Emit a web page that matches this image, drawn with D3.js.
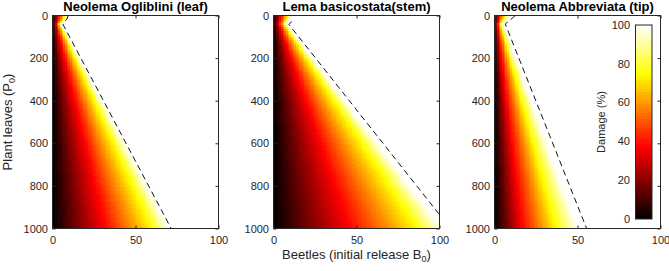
<!DOCTYPE html>
<html><head><meta charset="utf-8">
<script src="https://cdn.jsdelivr.net/npm/d3@7"></script>
<style>
body{margin:0;background:#fff}
svg{display:block}
text{font-family:"Liberation Sans",Arial,Helvetica,sans-serif;fill:#262626}
</style>
</head><body>
<svg id="c" width="669" height="271"></svg>
<script>
// ---- data ----
const titles = ["Neolema Ogliblini (leaf)", "Lema basicostata(stem)", "Neolema Abbreviata (tip)"];
const xTicks = [0, 50, 100];
const yTicks = [0, 200, 400, 600, 800, 1000];
const cbTicks = [0, 20, 40, 60, 80, 100];

// B0 of the full-damage (white) edge at these P0 levels
const edgeP0   = [0, 20, 40, 1000];
const edgeLeaf = [8.5, 7.5, 5.0, 70.5];
const edgeStem = [10.0, 9.0, 7.5, 102.0];
const edgeTip  = [8.5, 7.0, 5.0, 50.5];

// damage (%) across a row, as a fraction of the edge B0
const profFrac     = [0, 0.45, 0.85, 1];
const profFracTip  = [0, 0.33, 0.74, 1];
const profDamage   = [0, 37.5, 75, 100];

// dashed contour lines (B0, P0)
const contourLeafB = [9.5, 8.6, 6.2, 71.5];
const contourLeafP = [0, 17, 40, 1000];
const contourStemB = [11.0, 9.3, 100.0];
const contourStemP = [28, 42, 935];
const contourTipB  = [12.5, 8.4, 6.5, 55.5];
const contourTipP  = [0, 28, 40, 1000];

// model grid (B0 step 1, P0 step 10)
const gridB = d3.range(0, 101, 1);
const gridP = d3.range(0, 1001, 10);

const panels = [
  {title: titles[0], edge: edgeLeaf, frac: profFrac,    cB: contourLeafB, cP: contourLeafP},
  {title: titles[1], edge: edgeStem, frac: profFrac,    cB: contourStemB, cP: contourStemP},
  {title: titles[2], edge: edgeTip,  frac: profFracTip, cB: contourTipB,  cP: contourTipP}
];

// ---- layout ----
const svg = d3.select("#c");
const left0 = 52.5, pw = 166, gap = 221, topY = 15.5, ph = 213;

const x = d3.scaleLinear().domain([0, 100]).range([0, pw]);
const y = d3.scaleLinear().domain([0, 1000]).range([0, ph]);

const hot = d3.scaleLinear().domain([0, 37.5, 75, 100]).range(["#000000", "#ff0000", "#ffff00", "#ffffff"]);
const hot64 = d3.scaleQuantize().domain([0, 100]).range(d3.range(64).map(i => hot((i + 0.5) / 64 * 100)));

const defs = svg.append("defs");

panels.forEach((pn, i) => {
  const g = svg.append("g").attr("transform", `translate(${left0 + i * gap},${topY})`);
  defs.append("clipPath").attr("id", "clip" + i).append("rect").attr("width", pw).attr("height", ph);

  const edge = d3.scaleLinear().domain(edgeP0).range(pn.edge);
  const prof = d3.scaleLinear().domain(pn.frac).range(profDamage).clamp(true);

  const cells = [];
  gridP.forEach(p => gridB.forEach(b => {
    const d = prof(b / edge(p));
    if (d < 100) cells.push({b, p, d});
  }));

  const hm = g.append("g").attr("clip-path", `url(#clip${i})`);
  hm.selectAll("rect").data(cells).join("rect")
    .attr("x", d => x(d.b - 0.5))
    .attr("y", d => y(d.p - 5))
    .attr("width", x(1) - x(0) + 0.4)
    .attr("height", y(10) - y(0) + 0.4)
    .attr("fill", d => hot64(d.d))
    .attr("shape-rendering", "crispEdges");

  const line = d3.line().x(d => x(d[0])).y(d => y(d[1]));
  hm.append("path")
    .datum(pn.cB.map((b, k) => [b, pn.cP[k]]))
    .attr("d", line)
    .attr("fill", "none").attr("stroke", "#111").attr("stroke-width", 1)
    .attr("stroke-dasharray", "6,4");

  // axes (ticks inside, mirrored on top/right)
  const fmt = d3.format("d");
  const ax = g.append("g").attr("transform", `translate(0,${ph})`)
    .call(d3.axisBottom(x).tickValues(xTicks).tickFormat(fmt).tickSize(-3).tickPadding(8));
  const ay = g.append("g")
    .call(d3.axisLeft(y).tickValues(yTicks).tickFormat(fmt).tickSize(-3).tickPadding(4.5));
  const at = g.append("g")
    .call(d3.axisTop(x).tickValues(xTicks).tickSize(-3).tickFormat(""));
  const ar = g.append("g").attr("transform", `translate(${pw},0)`)
    .call(d3.axisRight(y).tickValues(yTicks).tickSize(-3).tickFormat(""));
  [ax, ay, at, ar].forEach(a => {
    a.select(".domain").remove();
    a.selectAll("line").attr("stroke", "#262626");
    a.selectAll("text").attr("font-size", 11).attr("font-family", "Liberation Sans, Arial, sans-serif").attr("fill", "#262626");
  });
  g.append("rect").attr("width", pw).attr("height", ph)
    .attr("fill", "none").attr("stroke", "#262626").attr("stroke-width", 1);

  g.append("text").attr("x", pw / 2).attr("y", 11 - topY)
    .attr("text-anchor", "middle").attr("font-size", 13).attr("font-weight", "bold")
    .style("fill", "#000").text(pn.title);
});

// y label
const yl = svg.append("text").attr("transform", `translate(11.5,${topY + ph / 2}) rotate(-90)`)
  .attr("text-anchor", "middle").attr("font-size", 13);
yl.append("tspan").text("Plant leaves (P");
yl.append("tspan").attr("font-size", 9).attr("dy", 3).text("0");
yl.append("tspan").attr("dy", -3).text(")");

// x label
const xl = svg.append("text").attr("x", left0 + gap + pw / 2).attr("y", 258.5)
  .attr("text-anchor", "middle").attr("font-size", 13);
xl.append("tspan").text("Beetles (initial release B");
xl.append("tspan").attr("font-size", 9).attr("dy", 3).text("0");
xl.append("tspan").attr("dy", -3).text(")");

// colorbar
const cbX = 635.5, cbW = 16.5, cbTop = 25, cbBot = 219;
const cy = d3.scaleLinear().domain([0, 100]).range([cbBot, cbTop]);
const cb = svg.append("g");
const levels = d3.range(64);
cb.selectAll("rect.lv").data(levels).join("rect").attr("class", "lv")
  .attr("x", cbX).attr("width", cbW)
  .attr("y", k => cy((k + 1) / 64 * 100))
  .attr("height", cy(0) - cy(100 / 64) + 0.3)
  .attr("fill", k => hot64((k + 0.5) / 64 * 100))
  .attr("shape-rendering", "crispEdges");
cb.append("rect").attr("x", cbX).attr("y", cbTop).attr("width", cbW).attr("height", cbBot - cbTop)
  .attr("fill", "none").attr("stroke", "#262626").attr("stroke-width", 1);
cb.selectAll("text.cbt").data(cbTicks).join("text").attr("class", "cbt")
  .attr("x", 630).attr("y", d => cy(d)).attr("dy", "0.35em")
  .attr("text-anchor", "end").attr("font-size", 11).text(d => d);
svg.append("text").attr("transform", `translate(605,${(cbTop + cbBot) / 2}) rotate(-90)`)
  .attr("text-anchor", "middle").attr("font-size", 11).text("Damage (%)");
</script>
</body></html>
